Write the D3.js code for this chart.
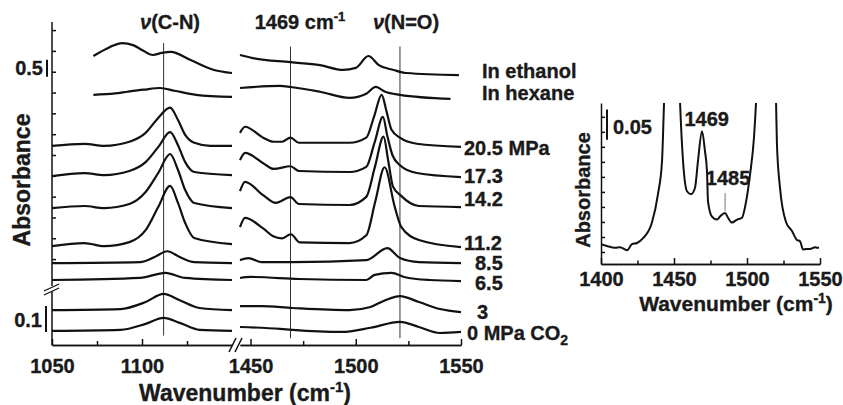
<!DOCTYPE html>
<html>
<head>
<meta charset="utf-8">
<script src="https://cdn.jsdelivr.net/npm/d3@7"></script>
<style>
  body { margin: 0; background: #fff; }
  text { font-family: "Liberation Sans", Arial, sans-serif; font-weight: bold; fill: #1a1a1a;
         stroke: #1a1a1a; stroke-width: 0.35px; }
</style>
</head>
<body>
<svg id="chart"></svg>
<script>
// spectra, [wavenumber (cm-1), absorbance above the trace baseline]
// cn = 1050-1150 window, no = 1445-1550 window
const ethanolCN = [[1073,0.56],[1082,0.82],[1089,0.94],[1095,0.88],[1100,0.74],[1106,0.59],[1111,0.65],[1116,0.68],[1127,0.44],[1140,0.15],[1150,0.06]];
const ethanolNO = [[1445,0.59],[1451,0.5],[1469,0.38],[1483,0.29],[1494,0.15],[1500,0.21],[1506,0.56],[1511,0.29],[1518,0.15],[1524,0.06],[1549,0]];
const hexaneCN  = [[1073,0.06],[1085,0.1],[1092,0.15],[1101,0.21],[1110,0.26],[1118,0.18],[1130,0.06],[1150,0]];
const hexaneNO  = [[1445,0.26],[1464,0.32],[1469,0.29],[1483,0.15],[1497,-0.03],[1505,0.09],[1509.5,0.29],[1514,0.15],[1521,0.06],[1545,-0.06]];
const p205CN = [[1050,0],[1068,0.06],[1079,0],[1093,0.12],[1102,0.38],[1109,0.82],[1115.6,1.12],[1120,0.76],[1124,0.32],[1129,0.09],[1138,0],[1150,0]];
const p205NO = [[1445,0.38],[1447.4,0.56],[1456,0.24],[1461,0.12],[1465,0.12],[1469,0.24],[1473,0.09],[1497,0.09],[1505,0.24],[1508.7,0.86],[1512.3,1.5],[1514.7,0.99],[1517,0.47],[1521,0.24],[1529,0.06],[1550,-0.03]];
const p173CN = [[1050,-0.03],[1068,0.06],[1079,0],[1093,0.12],[1102,0.38],[1109,0.82],[1115.6,1.26],[1120,0.88],[1124,0.38],[1129,0.09],[1150,0]];
const p173NO = [[1445,0.44],[1447.4,0.65],[1456,0.35],[1461,0.18],[1469,0.26],[1473,0.12],[1497,0.09],[1505,0.24],[1509,0.97],[1512.9,1.71],[1515,1.15],[1517.4,0.59],[1521,0.29],[1529,0.06],[1550,-0.06]];
const p142CN = [[1050,-0.03],[1068,0.03],[1079,-0.03],[1093,0.09],[1102,0.44],[1109,1.0],[1115.6,1.56],[1120,1.09],[1124,0.5],[1129,0.12],[1150,-0.03]];
const p142NO = [[1445,0.47],[1447.4,0.74],[1456,0.35],[1462,0.12],[1469,0.29],[1473,0.09],[1497,0.06],[1505,0.3],[1509.1,1.18],[1513.2,2.07],[1515.5,1.33],[1517.7,0.6],[1521.2,0.35],[1530,0.03],[1550,0]];
const p112CN = [[1050,-0.03],[1068,0.06],[1079,-0.03],[1093,0.09],[1102,0.44],[1109,1.12],[1115.6,1.74],[1120,1.24],[1124,0.65],[1129,0.21],[1150,0.03]];
const p112NO = [[1445,0.53],[1447.4,0.8],[1456,0.49],[1460.8,0.26],[1464.8,0.2],[1469.2,0.32],[1473.4,0.08],[1497,0.06],[1505,0.29],[1509.3,1.29],[1513.7,2.29],[1518.5,1.13],[1521.6,0.54],[1530,0.15],[1550,-0.06]];
const p85CN = [[1050,-0.03],[1099,0],[1107,0.15],[1114,0.32],[1121,0.15],[1129,0],[1150,-0.03]];
const p85NO = [[1445,0.06],[1449,0.12],[1455,0],[1470,0],[1505,0.06],[1515,0.41],[1521,0.12],[1530,0],[1550,-0.03]];
const p65CN = [[1050,0],[1099,0.06],[1113,0.21],[1124,0.06],[1150,0]];
const p65NO = [[1445,0.06],[1450,0.09],[1473,0.03],[1505,0],[1509,0.15],[1517,0.21],[1523,0.09],[1535,0],[1550,-0.03]];
const p3CN = [[1050,0],[1088,0.004],[1102,0.031],[1112,0.062],[1121,0.038],[1132,0.008],[1150,0]];
const p3NO = [[1445,0.015],[1455,0.015],[1470,0.008],[1497,0],[1507,0.012],[1514,0.038],[1521,0.054],[1530,0.031],[1540,0.004],[1550,-0.008]];
const p0CN = [[1050,0],[1088,0.004],[1102,0.027],[1112,0.05],[1121,0.031],[1132,0.004],[1150,0]];
const p0NO = [[1445,0.015],[1464,0.008],[1470,0.004],[1493,-0.004],[1507,0.012],[1521,0.035],[1530,0.015],[1540,-0.008],[1550,-0.004]];

const traceLabels = ["In ethanol", "In hexane", "20.5 MPa", "17.3", "14.2", "11.2", "8.5", "6.5", "3", "0 MPa CO"];
const traceOffsets = [6.26, 5.62, 4.18, 3.32, 2.38, 1.26, 0.76, 0.235, 0.138, 0.058];
const traceLower = [false, false, false, false, false, false, false, false, true, true];
const traceCN = [ethanolCN, hexaneCN, p205CN, p173CN, p142CN, p112CN, p85CN, p65CN, p3CN, p0CN];
const traceNO = [ethanolNO, hexaneNO, p205NO, p173NO, p142NO, p112NO, p85NO, p65NO, p3NO, p0NO];

// marker lines (cm-1)
const markCN = [1112];
const markNO = [1469, 1521];

// inset spectrum (1400-1550), absorbance
const insetSpec = [[1400,0.013],[1404,0.010],[1409.6,0.007],[1413,0.008],[1417.8,0.003],[1421.2,0.013],[1424.7,0.015],[1428.8,0.023],[1434.9,0.049],[1439,0.096],[1441.8,0.151],[1443.2,0.25],[1446,0.42],[1449,0.55],[1452,0.42],[1454.1,0.252],[1456.2,0.151],[1458.9,0.101],[1461.6,0.096],[1464.4,0.107],[1466.4,0.151],[1469.2,0.201],[1471.2,0.168],[1472.6,0.134],[1473.3,0.084],[1476,0.059],[1479.5,0.054],[1481.5,0.059],[1484.9,0.065],[1487,0.057],[1489.7,0.049],[1493.2,0.054],[1496.6,0.057],[1498.6,0.074],[1502.1,0.129],[1504.8,0.191],[1506.2,0.25],[1509,0.45],[1513,0.6],[1517,0.45],[1519.9,0.25],[1520.5,0.180],[1522.6,0.107],[1526.7,0.050],[1530.8,0.035],[1534.2,0.020],[1536.3,0.018],[1538.4,0.004],[1540.4,0.005],[1543.2,0.005],[1546.6,0.008],[1547.9,0.007],[1549.3,0.007]];

// label layout (px), kept apart from data
const labelX  = [482, 482, 464, 464, 464, 464, 475, 475, 477, 467];
const labelDy = [-4, -4, 2, 1, -8, -2, 1, 3, 2, 2];

const W = 843, H = 405;
const svg = d3.select("#chart").attr("width", W).attr("height", H);

// scales
const xCN = d3.scaleLinear().domain([1050, 1150]).range([52, 232]);
const xNO = d3.scaleLinear().domain([1445, 1550]).range([240, 461]);
const yUp = d3.scaleLinear().domain([0, 7.82]).range([288, 22]);
const yLo = d3.scaleLinear().domain([0, 0.219]).range([346, 289]);

const xP = d3.scaleLinear().domain([1400, 1550]).range([601, 820]);
const yP = d3.scaleLinear().domain([-0.02, 0.248]).range([264, 103]);

const lineOf = (x, y, off) => d3.line()
  .x(d => x(d[0]))
  .y(d => y(off + d[1]))
  .curve(d3.curveMonotoneX);

// marker lines
markCN.forEach(w => {
  svg.append("line").attr("x1", xCN(w)).attr("x2", xCN(w))
    .attr("y1", yUp(7.2)).attr("y2", yLo(0.04))
    .attr("stroke", "#333").attr("stroke-width", 1);
});
markNO.forEach(w => {
  svg.append("line").attr("x1", xNO(w)).attr("x2", xNO(w))
    .attr("y1", yUp(7.1)).attr("y2", yLo(0.03))
    .attr("stroke", "#333").attr("stroke-width", 1);
});

// traces
const gTr = svg.append("g");
traceLabels.forEach((lab, i) => {
  const y = traceLower[i] ? yLo : yUp;
  const off = traceOffsets[i];
  gTr.append("path").attr("d", lineOf(xCN, y, off)(traceCN[i]))
    .attr("fill", "none").attr("stroke", "#111").attr("stroke-width", 2.2);
  gTr.append("path").attr("d", lineOf(xNO, y, off)(traceNO[i]))
    .attr("fill", "none").attr("stroke", "#111").attr("stroke-width", 2.2);

  const t = svg.append("text")
    .attr("x", labelX[i])
    .attr("y", y(off) + labelDy[i])
    .attr("dy", "0.35em")
    .attr("font-size", 20)
    .text(lab);
  if (i === traceLabels.length - 1) {
    t.append("tspan").attr("dy", 5).attr("font-size", 14).text("2");
  }
});

// x axis, broken
const fmt = d3.format("d");
const styleAxis = g => {
  g.selectAll("path.domain").attr("stroke", "#111").attr("stroke-width", 1.5);
  g.selectAll(".tick line").attr("stroke", "#111").attr("stroke-width", 1.5);
  g.selectAll(".tick text").attr("font-size", 20).attr("font-family", null).attr("fill", "#1a1a1a");
  g.attr("font-family", null);
};
const axB = svg.append("g").attr("transform", "translate(0,345)");
axB.append("g").call(d3.axisBottom(xCN).tickValues([1050, 1100]).tickFormat(fmt)
  .tickSize(-6).tickSizeOuter(0).tickPadding(14)).call(styleAxis);
axB.append("g").call(d3.axisBottom(xCN).tickValues([1075, 1125]).tickFormat("")
  .tickSize(-4).tickSizeOuter(0)).call(styleAxis);
axB.append("g").call(d3.axisBottom(xNO).tickValues([1450, 1500, 1550]).tickFormat(fmt)
  .tickSize(-6).tickSizeOuter(0).tickPadding(14)).call(styleAxis);
axB.append("g").call(d3.axisBottom(xNO).tickValues([1475, 1525]).tickFormat("")
  .tickSize(-4).tickSizeOuter(0)).call(styleAxis);

// x break marks
[[229, 236], [235, 242]].forEach(([a, b]) => {
  svg.append("line").attr("x1", a).attr("y1", 352).attr("x2", b).attr("y2", 338)
    .attr("stroke", "#111").attr("stroke-width", 1.5);
});

// y axis, broken
const axL = svg.append("g").attr("transform", "translate(52,0)");
axL.call(d3.axisLeft(yUp).tickValues(d3.range(0.85, 7.7, 0.612)).tickFormat("")
  .tickSize(-4).tickSizeOuter(0)).call(styleAxis);
axL.select("path.domain").remove();
svg.append("line").attr("x1", 52).attr("x2", 52).attr("y1", yUp(7.82)).attr("y2", 286)
  .attr("stroke", "#111").attr("stroke-width", 1.5);
svg.append("line").attr("x1", 52).attr("x2", 52).attr("y1", 291).attr("y2", 345.5)
  .attr("stroke", "#111").attr("stroke-width", 1.5);
[[291, 284], [295, 288]].forEach(([a, b]) => {
  svg.append("line").attr("x1", 44).attr("y1", a).attr("x2", 59).attr("y2", b)
    .attr("stroke", "#111").attr("stroke-width", 1.3);
});

// scale bars
svg.append("line").attr("x1", 47).attr("x2", 47).attr("y1", yUp(6.21)).attr("y2", yUp(6.71))
  .attr("stroke", "#111").attr("stroke-width", 2);
svg.append("text").attr("x", 43).attr("y", 75).attr("text-anchor", "end").attr("font-size", 20).text("0.5");
svg.append("line").attr("x1", 46).attr("x2", 46).attr("y1", yLo(0.054)).attr("y2", yLo(0.154))
  .attr("stroke", "#111").attr("stroke-width", 2);
svg.append("text").attr("x", 42).attr("y", 327).attr("text-anchor", "end").attr("font-size", 20).text("0.1");

// peak labels
const tCN = svg.append("text").attr("x", 170).attr("y", 29).attr("text-anchor", "middle").attr("font-size", 20);
tCN.append("tspan").attr("font-style", "italic").text("ν");
tCN.append("tspan").text("(C-N)");
const t1469 = svg.append("text").attr("x", 300).attr("y", 29).attr("text-anchor", "middle").attr("font-size", 20);
t1469.append("tspan").text("1469 cm");
t1469.append("tspan").attr("dy", -8).attr("font-size", 13).text("-1");
const tNO = svg.append("text").attr("x", 406).attr("y", 29).attr("text-anchor", "middle").attr("font-size", 20);
tNO.append("tspan").attr("font-style", "italic").text("ν");
tNO.append("tspan").text("(N=O)");

// axis titles
svg.append("text").attr("transform", "translate(30,180) rotate(-90)")
  .attr("text-anchor", "middle").attr("font-size", 23).text("Absorbance");
const xt = svg.append("text").attr("x", 245).attr("y", 401).attr("text-anchor", "middle").attr("font-size", 23);
xt.append("tspan").text("Wavenumber (cm");
xt.append("tspan").attr("dy", -9).attr("font-size", 15).text("-1");
xt.append("tspan").attr("dy", 9).text(")");

// ---- inset ----
svg.append("clipPath").attr("id", "clipP").append("rect")
  .attr("x", 601).attr("y", 103).attr("width", 219).attr("height", 161);

svg.append("path")
  .attr("d", d3.line().x(d => xP(d[0])).y(d => yP(d[1])).curve(d3.curveMonotoneX)(insetSpec))
  .attr("clip-path", "url(#clipP)")
  .attr("fill", "none").attr("stroke", "#111").attr("stroke-width", 2);

const axPB = svg.append("g").attr("transform", "translate(0,264)");
axPB.append("g").call(d3.axisBottom(xP).tickValues([1400, 1450, 1500, 1550]).tickFormat(fmt)
  .tickSize(-6).tickSizeOuter(0).tickPadding(8)).call(styleAxis);
axPB.append("g").call(d3.axisBottom(xP).tickValues([1425, 1475, 1525]).tickFormat("")
  .tickSize(-3.5).tickSizeOuter(0)).call(styleAxis);
svg.append("g").attr("transform", "translate(601,0)")
  .call(d3.axisLeft(yP).tickValues(d3.range(0, 0.24, 0.025)).tickFormat("")
    .tickSize(-4).tickSizeOuter(0)).call(styleAxis);

// inset scale bar and peak marks
svg.append("line").attr("x1", 607).attr("x2", 607).attr("y1", yP(0.187)).attr("y2", yP(0.237))
  .attr("stroke", "#111").attr("stroke-width", 2);
svg.append("text").attr("x", 613).attr("y", 134).attr("font-size", 20).text("0.05");

svg.append("text").attr("x", xP(1469) + 5).attr("y", yP(0.201) - 5)
  .attr("text-anchor", "middle").attr("font-size", 20).text("1469");
svg.append("line").attr("x1", xP(1485)).attr("x2", xP(1485))
  .attr("y1", yP(0.068)).attr("y2", yP(0.098))
  .attr("stroke", "#777").attr("stroke-width", 1);
svg.append("text").attr("x", xP(1485) + 3).attr("y", yP(0.098) - 8)
  .attr("text-anchor", "middle").attr("font-size", 20).text("1485");

svg.append("text").attr("transform", "translate(590,190) rotate(-90)")
  .attr("text-anchor", "middle").attr("font-size", 20).text("Absorbance");
const xt2 = svg.append("text").attr("x", 736).attr("y", 311).attr("text-anchor", "middle").attr("font-size", 21);
xt2.append("tspan").text("Wavenumber (cm");
xt2.append("tspan").attr("dy", -8).attr("font-size", 14).text("-1");
xt2.append("tspan").attr("dy", 8).text(")");
</script>
</body>
</html>
